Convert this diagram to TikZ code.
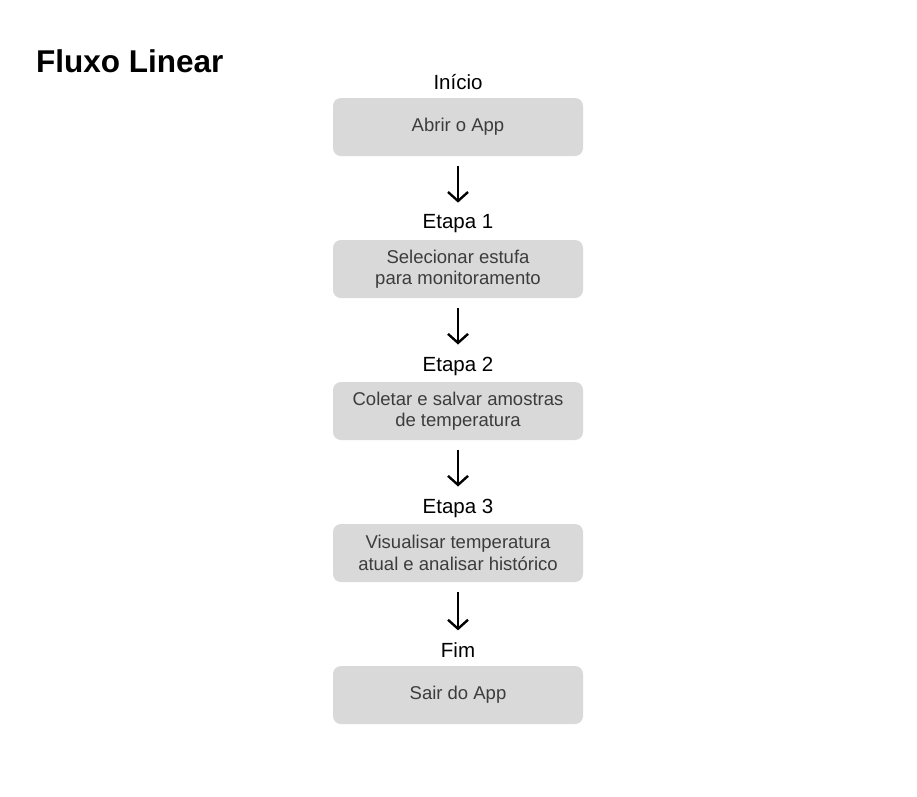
\documentclass[tikz,border=0pt]{standalone}
\usepackage{fontspec}
\setmainfont{Liberation Sans}
\usetikzlibrary{arrows.meta}
\definecolor{boxgray}{HTML}{D9D9D9}
\definecolor{txtgray}{HTML}{3C3C3C}
\tikzset{
  stepbox/.style={draw=none, fill=boxgray, rounded corners=8pt, minimum width=250pt, minimum height=58pt, inner sep=0pt, align=center, text=txtgray, font=\fontsize{18.5}{21.5}\selectfont},
  steplabel/.style={font=\fontsize{20.5}{23}\selectfont, text=black, inner sep=0pt},
  flowarrow/.style={line width=2.4pt, -{Straight Barb[length=9pt,width=20pt,line width=2.4pt]}}
}
\begin{document}
\begin{tikzpicture}[x=1pt,y=-1pt]
\useasboundingbox[fill=white] (0,0) rectangle (917,796);
\node[anchor=west, font=\bfseries\fontsize{31.5}{34}\selectfont, inner sep=0pt] (title) at (36,61) {Fluxo Linear};

\node[steplabel] (l0) at (458,82) {Início};
\node[stepbox] (b0) at (458,127) {Abrir o App};
\node[steplabel] (l1) at (458,224) {Etapa 1};
\node[stepbox] (b1) at (458,269) {Selecionar estufa\\para monitoramento};
\node[steplabel] (l2) at (458,366) {Etapa 2};
\node[stepbox] (b2) at (458,411) {Coletar e salvar amostras\\de temperatura};
\node[steplabel] (l3) at (458,508) {Etapa 3};
\node[stepbox] (b3) at (458,553) {Visualisar temperatura\\atual e analisar histórico};
\node[steplabel] (l4) at (458,650) {Fim};
\node[stepbox] (b4) at (458,695) {Sair do App};

\draw[flowarrow] ([yshift=-10pt]b0.south) -- ([yshift=12pt]l1.north);
\draw[flowarrow] ([yshift=-10pt]b1.south) -- ([yshift=12pt]l2.north);
\draw[flowarrow] ([yshift=-10pt]b2.south) -- ([yshift=12pt]l3.north);
\draw[flowarrow] ([yshift=-10pt]b3.south) -- ([yshift=12pt]l4.north);
\end{tikzpicture}
\end{document}
